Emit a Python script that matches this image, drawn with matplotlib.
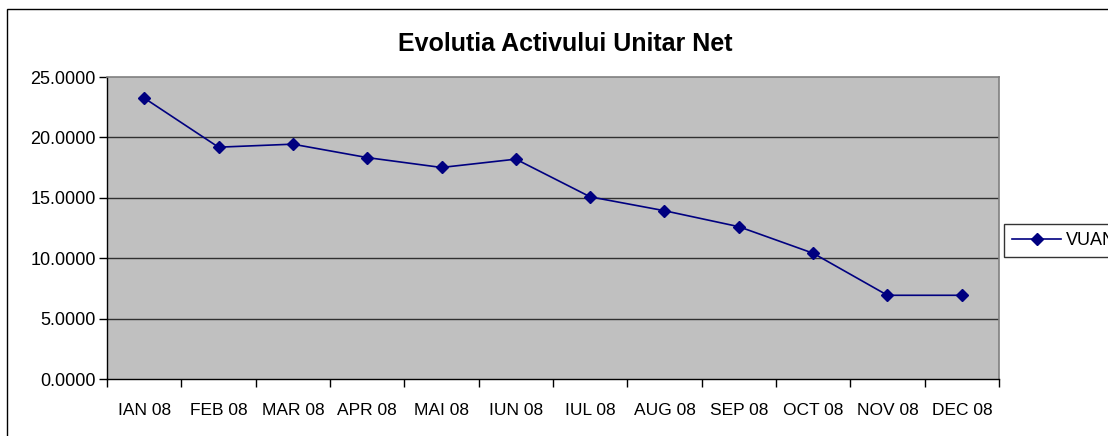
import matplotlib
matplotlib.use("Agg")
import matplotlib.pyplot as plt
from matplotlib.patches import Rectangle
from matplotlib.ticker import FixedLocator, FuncFormatter

months = ["IAN 08", "FEB 08", "MAR 08", "APR 08", "MAI 08", "IUN 08",
          "IUL 08", "AUG 08", "SEP 08", "OCT 08", "NOV 08", "DEC 08"]
vuan = [23.26, 19.19, 19.44, 18.33, 17.51, 18.20,
        15.08, 13.93, 12.61, 10.41, 6.93, 6.93]
series_name = "VUAN"
title = "Evolutia Activului Unitar Net"
yticks = [0, 5, 10, 15, 20, 25]

plt.rcParams['font.family'] = ['Liberation Sans', 'DejaVu Sans']

W, H = 1108, 436
fig = plt.figure(figsize=(W / 100, H / 100), dpi=100)
fig.patch.set_facecolor("white")

# outer chart frame
fig.add_artist(Rectangle((7 / W, -0.2), 1.2, 1 - 9 / H + 0.2,
                         transform=fig.transFigure, fill=False,
                         edgecolor="black", lw=1.0))

ax = fig.add_axes([107 / W, 1 - 379 / H, (999 - 107) / W, (379 - 77) / H])
ax.set_facecolor("#C0C0C0")

x = list(range(len(months)))
ax.plot(x, vuan, color="#000080", lw=1.2, marker="D", markersize=6.5,
        markerfacecolor="#000080", markeredgecolor="#000080", label=series_name,
        zorder=3)

ax.set_xlim(-0.5, len(months) - 0.5)
ax.set_ylim(0, 25)
ax.set_yticks(yticks)
ax.yaxis.set_major_formatter(FuncFormatter(lambda v, p: f"{v:.4f}"))
for yv in yticks[1:-1]:
    ax.axhline(yv, color="#303030", lw=1.0, zorder=1)

ax.set_xticks(x)
ax.set_xticklabels(months)
ax.xaxis.set_minor_locator(FixedLocator([i - 0.5 for i in range(len(months) + 1)]))
ax.tick_params(axis="x", which="major", length=0, pad=17, labelsize=12.5)
ax.tick_params(axis="x", which="minor", length=6, width=1, color="black", direction="out")
ax.tick_params(axis="y", length=6, width=1, color="black", direction="out",
               labelsize=13, pad=2)

for s in ["left", "bottom"]:
    ax.spines[s].set_color("black")
    ax.spines[s].set_linewidth(1.0)
for s in ["right", "top"]:
    ax.spines[s].set_color("#808080")
    ax.spines[s].set_linewidth(1.2)

fig.text(565 / W, 1 - 44 / H, title, ha="center", va="center",
         fontsize=18, fontweight="bold")

leg = fig.legend(loc="upper left", bbox_to_anchor=(1004 / W, 1 - 224 / H),
                 bbox_transform=fig.transFigure, frameon=True, fancybox=False,
                 edgecolor="black", fontsize=13, handlelength=2.7,
                 borderpad=0.45, borderaxespad=0, handletextpad=0.3)
leg.get_frame().set_linewidth(1.0)

fig.savefig("out.png", dpi=100)
